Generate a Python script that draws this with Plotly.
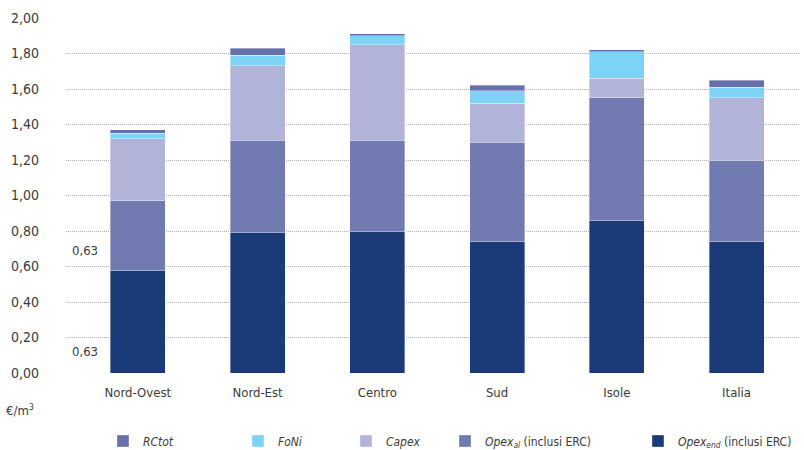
import plotly.graph_objects as go

categories = ["Nord-Ovest", "Nord-Est", "Centro", "Sud", "Isole", "Italia"]
opex_end = [0.58, 0.79, 0.80, 0.74, 0.86, 0.74]
opex_al = [0.39, 0.52, 0.51, 0.56, 0.69, 0.46]
capex = [0.35, 0.42, 0.54, 0.22, 0.11, 0.35]
foni = [0.03, 0.06, 0.05, 0.07, 0.15, 0.06]
rctot = [0.02, 0.04, 0.01, 0.03, 0.01, 0.04]

# (legend name, values, colour, legend id, legend left in container fraction)
series = [
    ("<i>Opex<sub>end</sub></i> (inclusi ERC)", opex_end, "#1b3a78", "legend5", 0.7935),
    ("<i>Opex<sub>al</sub></i> (inclusi ERC)", opex_al, "#717bb1", "legend4", 0.5535),
    ("<i>Capex</i>", capex, "#b1b4d8", "legend3", 0.4303),
    ("<i>FoNi</i>", foni, "#7dd3f5", "legend2", 0.2960),
    ("<i>RCtot</i>", rctot, "#6570ad", "legend", 0.1281),
]

FONT = "DejaVu Sans Condensed, Liberation Sans Narrow, sans-serif"
TXT = "#3a3a3a"

fig = go.Figure()
legend_layouts = {}
for name, vals, col, lg, lx in series:
    fig.add_trace(go.Bar(
        x=categories, y=vals, name=name, legend=lg, showlegend=True,
        marker=dict(color=col, line=dict(color="rgba(255,255,255,0.6)", width=0.6)),
    ))
    legend_layouts[lg] = dict(
        orientation="h", x=lx, xanchor="left", xref="container",
        y=0.02, yanchor="middle", yref="container",
        font=dict(size=12, color=TXT), bgcolor="rgba(0,0,0,0)",
    )

fig.update_layout(
    barmode="stack",
    bargap=0.54,
    width=804, height=450,
    margin=dict(l=66, r=4, t=18, b=77),
    plot_bgcolor="white", paper_bgcolor="white",
    separators=",.",
    font=dict(family=FONT, size=13, color=TXT),
    **legend_layouts,
)
fig.update_xaxes(
    range=[-0.6, 5.53], showgrid=False, showline=False, zeroline=False,
    ticks="", ticklabelstandoff=10, tickfont=dict(size=13),
)
fig.update_yaxes(
    range=[0, 2.0], dtick=0.2, tickformat=".2f",
    showgrid=True, gridcolor="#b0b0b0", griddash="1px,1px", gridwidth=1,
    zeroline=False, showline=False, ticks="", ticklabelstandoff=26,
    tickfont=dict(size=14),
)

fig.add_annotation(x=-0.44, y=0.69, xref="x", yref="y", text="0,63",
                   showarrow=False, font=dict(size=13, color=TXT))
fig.add_annotation(x=-0.44, y=0.12, xref="x", yref="y", text="0,63",
                   showarrow=False, font=dict(size=13, color=TXT))
fig.add_annotation(x=0.0, y=-0.104, xref="paper", yref="paper", xshift=-62,
                   text="€/m<sup>3</sup>", showarrow=False, xanchor="left",
                   yanchor="middle", font=dict(size=13, color=TXT))

fig.write_html("out.html")
